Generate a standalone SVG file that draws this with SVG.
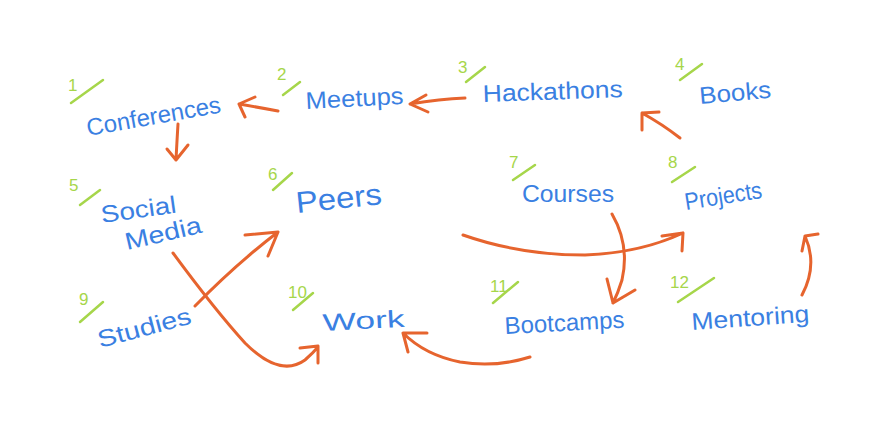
<svg xmlns="http://www.w3.org/2000/svg" width="880" height="440" viewBox="0 0 880 440">
<style>
.lbl{font-family:"Liberation Sans","DejaVu Sans",sans-serif;fill:#3a80e2;font-size:24px}
.num{font-family:"Liberation Sans","DejaVu Sans",sans-serif;fill:#a6d64a;font-size:17px}
.sl{stroke:#a6d64a;stroke-width:2.5;stroke-linecap:round;fill:none}
.ar{stroke:#e6642e;stroke-width:3;stroke-linecap:round;stroke-linejoin:round;fill:none}
</style>
<rect width="880" height="440" fill="#ffffff"/>
<g id="n1"><text class="num" x="68" y="91">1</text><line class="sl" x1="71" y1="103" x2="103" y2="80"/>
<text class="lbl" x="88" y="136" textLength="136" lengthAdjust="spacingAndGlyphs" transform="rotate(-10 88 136)">Conferences</text></g>
<g id="n2"><text class="num" x="277" y="80">2</text><line class="sl" x1="283" y1="95" x2="300" y2="82"/>
<text class="lbl" x="306" y="109" textLength="98" lengthAdjust="spacingAndGlyphs" transform="rotate(-3 306 109)">Meetups</text></g>
<g id="n3"><text class="num" x="458" y="73">3</text><line class="sl" x1="466" y1="82" x2="485" y2="67"/>
<text class="lbl" x="483" y="102" textLength="140" lengthAdjust="spacingAndGlyphs" transform="rotate(-2 483 102)">Hackathons</text></g>
<g id="n4"><text class="num" x="675" y="70">4</text><line class="sl" x1="680" y1="80" x2="702" y2="64"/>
<text class="lbl" x="700" y="104" textLength="72" lengthAdjust="spacingAndGlyphs" transform="rotate(-5 700 104)">Books</text></g>
<g id="n5"><text class="num" x="69" y="191">5</text><line class="sl" x1="80" y1="205" x2="100" y2="190"/>
<text class="lbl" x="102" y="223" textLength="76" lengthAdjust="spacingAndGlyphs" transform="rotate(-8 102 223)">Social</text>
<text class="lbl" x="127" y="250" textLength="78" lengthAdjust="spacingAndGlyphs" transform="rotate(-13 127 250)">Media</text></g>
<g id="n6"><text class="num" x="268" y="180">6</text><line class="sl" x1="273" y1="190" x2="292" y2="173"/>
<text class="lbl" x="297" y="213" style="font-size:30px" textLength="86" lengthAdjust="spacingAndGlyphs" transform="rotate(-6 297 213)">Peers</text></g>
<g id="n7"><text class="num" x="509" y="168">7</text><line class="sl" x1="513" y1="180" x2="535" y2="165"/>
<text class="lbl" x="522" y="202" textLength="92" lengthAdjust="spacingAndGlyphs">Courses</text></g>
<g id="n8"><text class="num" x="668" y="168">8</text><line class="sl" x1="672" y1="182" x2="695" y2="167"/>
<text class="lbl" x="686" y="210" textLength="78" lengthAdjust="spacingAndGlyphs" transform="rotate(-9 686 210)">Projects</text></g>
<g id="n9"><text class="num" x="79" y="305">9</text><line class="sl" x1="80" y1="322" x2="103" y2="302"/>
<text class="lbl" x="100" y="348" textLength="96" lengthAdjust="spacingAndGlyphs" transform="rotate(-15 100 348)">Studies</text></g>
<g id="n10"><text class="num" x="288" y="298">10</text><line class="sl" x1="293" y1="310" x2="313" y2="293"/>
<text class="lbl" x="323" y="331" textLength="82" lengthAdjust="spacingAndGlyphs" transform="rotate(-3 323 331)">Work</text></g>
<g id="n11"><text class="num" x="490" y="292">11</text><line class="sl" x1="493" y1="303" x2="518" y2="282"/>
<text class="lbl" x="505" y="334" textLength="120" lengthAdjust="spacingAndGlyphs" transform="rotate(-3 505 334)">Bootcamps</text></g>
<g id="n12"><text class="num" x="670" y="288">12</text><line class="sl" x1="678" y1="302" x2="714" y2="278"/>
<text class="lbl" x="692" y="330" textLength="118" lengthAdjust="spacingAndGlyphs" transform="rotate(-4 692 330)">Mentoring</text></g>
<g id="connectors">
<path class="ar" d="M278,111 Q262,108 239,104 M255,97 L239,104 L245,117"/>
<path class="ar" d="M178,124 Q177,140 176,160 M167,149 L176,160 L188,145"/>
<path class="ar" d="M465,98 Q440,99 410,104 M426,95 L410,104 L428,112"/>
<path class="ar" d="M680,138 Q662,124 642,113 M642,130 L642,113 L659,112"/>
<path class="ar" d="M173,253 Q215,310 245,343 Q280,378 305,360 Q313,353 318,347 M300,348 L318,346 L318,363"/>
<path class="ar" d="M195,306 Q235,265 278,232 M245,235 L278,232 L268,256"/>
<path class="ar" d="M463,235 Q520,255 585,255 Q640,253 683,233 M662,236 L683,233 L682,251"/>
<path class="ar" d="M612,214 Q630,245 622,280 Q618,293 613,303 M607,279 L613,303 L635,290"/>
<path class="ar" d="M802,295 Q818,265 805,236 M802,251 L805,236 L818,234"/>
<path class="ar" d="M530,357 Q495,368 460,362 Q425,355 403,333 M427,333 L403,333 L408,352"/>
</g>
</svg>
